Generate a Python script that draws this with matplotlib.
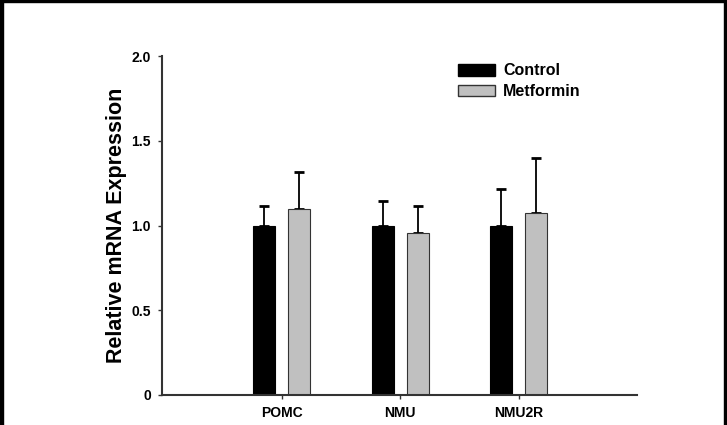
import matplotlib.pyplot as plt
import matplotlib.patches as mpatches
import numpy as np

plt.rcParams['font.family'] = ['Liberation Sans', 'DejaVu Sans']

genes = ["POMC", "NMU", "NMU2R"]
control = [1.0, 1.0, 1.0]
control_err = [0.115, 0.145, 0.215]
metformin = [1.10, 0.955, 1.075]
metformin_err = [0.215, 0.16, 0.325]

fig = plt.figure(figsize=(7.27, 4.25), dpi=100)
ax = fig.add_axes([162 / 727, 1 - 395 / 425, (637 - 162) / 727, (395 - 56) / 425])

x = np.arange(len(genes))
w = 0.186
off = 0.148

ax.bar(x - off, control, w, color="black", edgecolor="black", linewidth=0.8, label="Control", zorder=2)
ax.bar(x + off, metformin, w, color="#c0c0c0", edgecolor="#333333", linewidth=0.8, label="Metformin", zorder=2)
ax.errorbar(x - off, control, yerr=[np.zeros(3), control_err], fmt="none", ecolor="black",
            elinewidth=1.3, capsize=3.5, capthick=2, zorder=1)
ax.errorbar(x + off, metformin, yerr=[np.zeros(3), metformin_err], fmt="none", ecolor="black",
            elinewidth=1.3, capsize=3.5, capthick=2, zorder=1)

ax.set_xlim(-1.01, 3.0)
ax.set_ylim(0, 2.0)
ax.set_yticks([0, 0.5, 1.0, 1.5, 2.0])
ax.set_yticklabels(["0", "0.5", "1.0", "1.5", "2.0"], fontweight="bold", fontsize=10)
ax.set_xticks(x)
ax.set_xticklabels(genes, fontweight="bold", fontsize=10)
ax.tick_params(axis="both", direction="out", length=3, width=1, color="#333333", pad=5)

for s in ["top", "right"]:
    ax.spines[s].set_visible(False)
for s in ["left", "bottom"]:
    ax.spines[s].set_linewidth(1.5)
    ax.spines[s].set_color("#333333")

ax.set_ylabel("Relative mRNA Expression", fontweight="bold", fontsize=15.5, labelpad=3)

handles = [mpatches.Patch(facecolor="black", edgecolor="black"),
           mpatches.Patch(facecolor="#c0c0c0", edgecolor="#333333")]
fig.legend(handles, ["Control", "Metformin"], loc="upper left", bbox_to_anchor=(452 / 727, 1 - 57 / 425),
           frameon=False, prop={"weight": "bold", "size": 11.5}, handlelength=2.3, handleheight=0.75,
           labelspacing=0.35, handletextpad=0.5, borderaxespad=0)

# frame around the picture (left, top, right)
fig.add_artist(mpatches.Rectangle((0, 0), 3 / 727, 1, transform=fig.transFigure, color="black"))
fig.add_artist(mpatches.Rectangle((0, 1 - 2 / 425), 1, 2 / 425, transform=fig.transFigure, color="black"))
fig.add_artist(mpatches.Rectangle((1 - 3 / 727, 0), 2 / 727, 1, transform=fig.transFigure, color="black"))

fig.savefig("out.png", dpi=100)
